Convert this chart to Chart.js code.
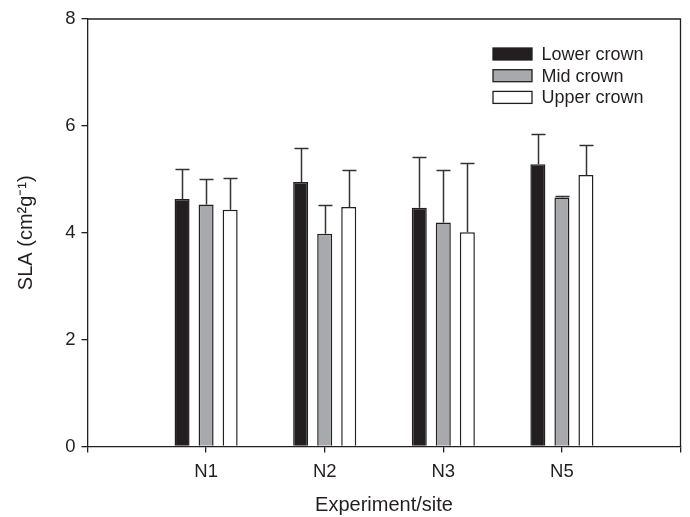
<!DOCTYPE html>
<html>
<head>
<meta charset="utf-8">
<script src="https://cdn.jsdelivr.net/npm/chart.js@4.4.0/dist/chart.umd.min.js"></script>
<style>
  html, body { margin: 0; padding: 0; background: #fff; }
  #wrap { width: 690px; height: 517px; position: relative; }
</style>
</head>
<body>
<div id="wrap"><canvas id="c" width="690" height="517"></canvas></div>
<script>
const categories = ['N1', 'N2', 'N3', 'N5'];
const seriesNames = ['Lower crown', 'Mid crown', 'Upper crown'];
const lowerCrown = [4.63, 4.95, 4.47, 5.28];
const lowerErr   = [0.56, 0.64, 0.95, 0.57];
const midCrown   = [4.53, 3.98, 4.19, 4.66];
const midErr     = [0.48, 0.53, 0.98, 0.03];
const upperCrown = [4.43, 4.48, 4.01, 5.08];
const upperErr   = [0.59, 0.70, 1.30, 0.57];
const yTicks = [0, 2, 4, 6, 8];

const INK = '#231f20';
const FONT = "'Liberation Sans', Arial, Helvetica, sans-serif";

const labels = [''].concat(categories, ['']);
const pad = arr => [null].concat(arr, [null]);

const fills = ['#231f20', '#a7a9ac', '#ffffff'];
const values = [lowerCrown, midCrown, upperCrown];
const errors = [lowerErr, midErr, upperErr];

const datasets = seriesNames.map((name, i) => ({
  label: name,
  data: pad(values[i]),
  errors: pad(errors[i]),
  backgroundColor: fills[i],
  borderColor: INK,
  borderWidth: 1.5,
  categoryPercentage: 0.608,
  barPercentage: 0.625
}));

const errorBars = {
  id: 'errorBars',
  afterDatasetsDraw(chart) {
    const ctx = chart.ctx;
    const y = chart.scales.y;
    ctx.save();
    ctx.strokeStyle = '#333';
    ctx.lineWidth = 1.5;
    chart.data.datasets.forEach((ds, di) => {
      const meta = chart.getDatasetMeta(di);
      meta.data.forEach((bar, idx) => {
        const v = ds.data[idx], e = ds.errors[idx];
        if (v == null || e == null) return;
        const x = Math.round(bar.x) + 0.5;
        const y0 = y.getPixelForValue(v);
        const y1 = Math.round(y.getPixelForValue(v + e)) + 0.5;
        ctx.beginPath();
        ctx.moveTo(x, y0);
        ctx.lineTo(x, y1);
        ctx.moveTo(x - 7, y1);
        ctx.lineTo(x + 7, y1);
        ctx.stroke();
      });
    });
    ctx.restore();
  }
};

const frame = {
  id: 'frame',
  afterDraw(chart) {
    const {ctx, chartArea: a} = chart;
    ctx.save();
    ctx.strokeStyle = INK;
    ctx.lineWidth = 1.3;
    ctx.beginPath();
    ctx.moveTo(a.left, a.top);
    ctx.lineTo(a.right, a.top);
    ctx.lineTo(a.right, a.bottom);
    ctx.stroke();
    ctx.restore();
  }
};

const boxLegend = {
  id: 'boxLegend',
  afterDraw(chart) {
    const ctx = chart.ctx;
    ctx.save();
    ctx.font = '18px ' + FONT;
    ctx.textBaseline = 'middle';
    ctx.textAlign = 'left';
    chart.data.datasets.forEach((ds, i) => {
      const top = 48 + i * 21.7;
      ctx.fillStyle = ds.backgroundColor;
      ctx.fillRect(493, top, 39, 12);
      ctx.strokeStyle = INK;
      ctx.lineWidth = 1.3;
      ctx.strokeRect(493, top, 39, 12);
      ctx.fillStyle = INK;
      ctx.fillText(ds.label, 541.5, top + 7);
    });
    ctx.restore();
  }
};

new Chart(document.getElementById('c'), {
  type: 'bar',
  data: { labels, datasets },
  plugins: [errorBars, frame, boxLegend],
  options: {
    responsive: false,
    animation: false,
    devicePixelRatio: 1,
    layout: { padding: { left: 0, right: 9.5, top: 19, bottom: 0 } },
    plugins: {
      legend: { display: false },
      tooltip: { enabled: false }
    },
    scales: {
      x: {
        type: 'category',
        offset: false,
        grid: { display: true, drawOnChartArea: false, drawTicks: true, tickLength: 6, color: INK, lineWidth: 1.3, offset: false },
        border: { display: true, color: INK, width: 1.3 },
        ticks: { color: INK, font: { family: FONT, size: 18.5 }, padding: 8, maxRotation: 0, autoSkip: false },
        title: { display: true, text: 'Experiment/site', color: INK, font: { family: FONT, size: 20 }, padding: { top: 0, bottom: 0 } },
        afterFit(s) { s.height = 70.5; }
      },
      y: {
        min: 0, max: 8,
        afterBuildTicks(s) { s.ticks = yTicks.map(v => ({ value: v })); },
        grid: { display: true, drawOnChartArea: false, drawTicks: true, tickLength: 6, color: INK, lineWidth: 1.3 },
        border: { display: true, color: INK, width: 1.3 },
        ticks: { color: INK, font: { family: FONT, size: 18.5 }, padding: 6 },
        title: { display: true, text: 'SLA (cm²g⁻¹)', color: INK, font: { family: FONT, size: 20 }, padding: { top: 14, bottom: 0 } },
        afterFit(s) { s.width = 87.5; }
      }
    }
  }
});
</script>
</body>
</html>
